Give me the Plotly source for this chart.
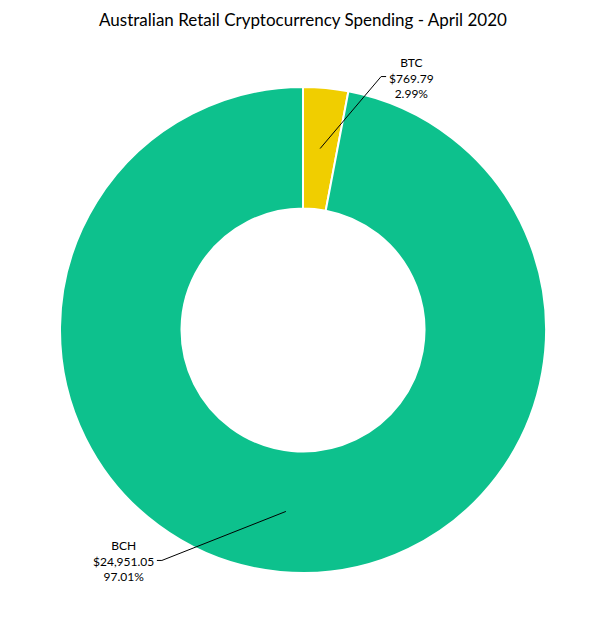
import math
import plotly.graph_objects as go

# Spending per coin, April 2020 (AUD)
coins = ["BTC", "BCH"]
amounts = [769.79, 24951.05]
colors = ["#F0CE00", "#0DC18D"]

W, H = 606, 626
OFF = 8  # page body margin in the browser
ML, MT, PW, PH = 60 - OFF, 87 - OFF, 486, 486
MR, MB = W - ML - PW, H - MT - PH
cx, cy = ML + PW / 2, MT + PH / 2
r_out = min(PW, PH) / 2
hole = 0.5
r_mid = r_out * (1 + hole) / 2

fig = go.Figure(go.Pie(
    labels=coins, values=amounts, hole=hole,
    sort=False, direction="clockwise", rotation=0,
    marker=dict(colors=colors, line=dict(color="white", width=2)),
    textinfo="none", hoverinfo="label+value+percent", showlegend=False,
))


def to_paper(px, py):
    return (px - ML) / PW, (H - MB - py) / PH


# label offsets (pixels) from the anchor point in each slice
elbow = {"BTC": (61, -72), "BCH": (-124, 49)}
total = sum(amounts)
start = 0.0
for coin, amt in zip(coins, amounts):
    frac = amt / total
    mid = (start + frac / 2) * 2 * math.pi
    start += frac
    x0 = cx + r_mid * math.sin(mid)
    y0 = cy - r_mid * math.cos(mid)
    ex, ey = x0 + elbow[coin][0], y0 + elbow[coin][1]
    side = 1 if ex > cx else -1
    tx = ex + side * 5
    pts = [to_paper(x0, y0), to_paper(ex, ey), to_paper(tx, ey)]
    path = "M {} {} L {} {} L {} {}".format(*[v for p in pts for v in p])
    fig.add_shape(type="path", path=path, xref="paper", yref="paper",
                  line=dict(color="#000000", width=1))
    fig.add_annotation(
        x=to_paper(tx + side * 1, ey)[0], y=to_paper(tx, ey + 1)[1],
        xref="paper", yref="paper", showarrow=False,
        xanchor="left" if side > 0 else "right", yanchor="middle",
        align="center",
        text=f"{coin}<br>${amt:,.2f}<br>{frac * 100:.2f}%",
        font=dict(family="Lato, sans-serif", size=12, color="#000000"),
    )

fig.update_layout(
    width=W, height=H,
    margin=dict(l=ML, r=MR, t=MT, b=MB),
    title=dict(text="Australian Retail Cryptocurrency Spending - April 2020",
               x=(303 - OFF) / W, xanchor="center",
               y=1 - (20 - OFF) / H, yanchor="middle",
               font=dict(family="Lato, sans-serif", size=17, color="#000000")),
    paper_bgcolor="white", plot_bgcolor="white",
)

fig.write_html("out.html")
